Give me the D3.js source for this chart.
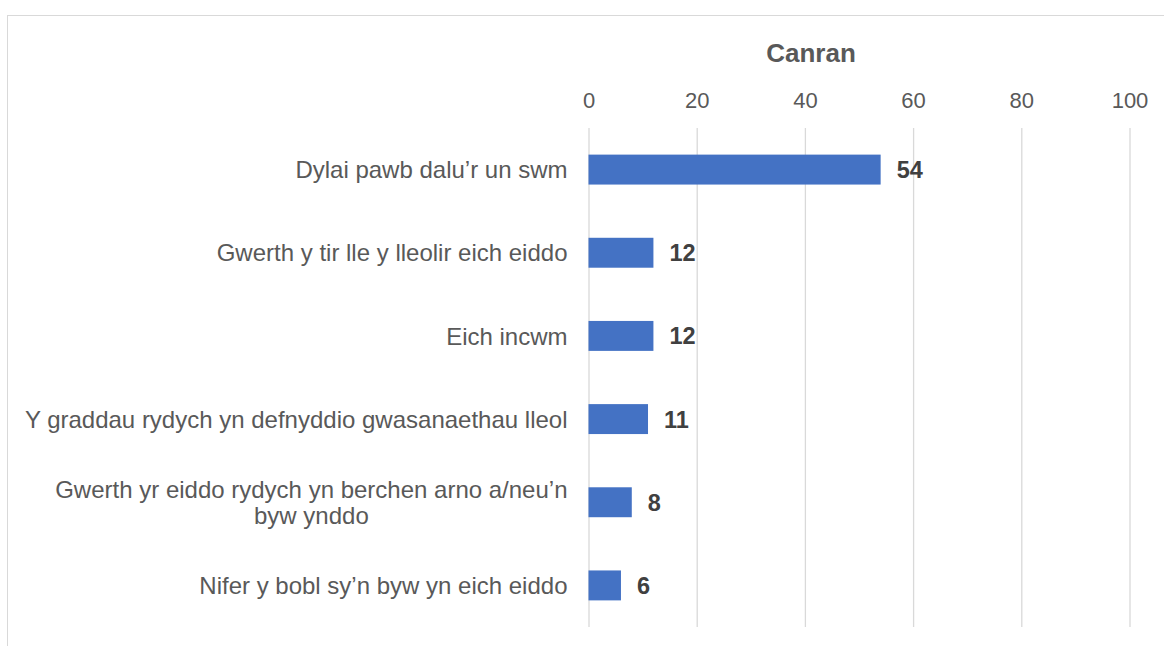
<!DOCTYPE html>
<html>
<head>
<meta charset="utf-8">
<script src="https://cdn.jsdelivr.net/npm/d3@7"></script>
<style>
  html, body { margin: 0; padding: 0; background: #fff; }
  svg { display: block; font-family: "Liberation Sans", Arial, sans-serif; }
</style>
</head>
<body>
<div id="chart"></div>
<script>
/* ── Data ─────────────────────────────────────────────────────────── */
const categories = [
  'Dylai pawb dalu’r un swm',
  'Gwerth y tir lle y lleolir eich eiddo',
  'Eich incwm',
  'Y graddau rydych yn defnyddio gwasanaethau lleol',
  'Gwerth yr eiddo rydych yn berchen arno a/neu’n byw ynddo',
  'Nifer y bobl sy’n byw yn eich eiddo'
];
const values = [54, 12, 12, 11, 8, 6];
const xTicks = [0, 20, 40, 60, 80, 100];
const axisTitle = 'Canran';

/* ── Layout ───────────────────────────────────────────────────────── */
const W = 1164, H = 646;
const margin = { top: 128, right: 34, bottom: 19, left: 588.5 };
const w = W - margin.left - margin.right;
const h = H - margin.top - margin.bottom;

const svg = d3.select('#chart').append('svg')
  .attr('width', W).attr('height', H);

// chart border (only left/top edges visible in the frame)
svg.append('rect')
  .attr('x', 7.5).attr('y', 15.5)
  .attr('width', W + 10).attr('height', H + 10)
  .attr('fill', 'none')
  .attr('stroke', '#d9d9d9')
  .attr('stroke-width', 1);

const g = svg.append('g')
  .attr('transform', `translate(${margin.left},${margin.top})`);

/* ── Scales ───────────────────────────────────────────────────────── */
const x = d3.scaleLinear().domain([0, 100]).range([0, 541]);
const y = d3.scaleBand()
  .domain(categories)
  .range([0, h])
  .paddingInner(0.64)
  .paddingOuter(0.32);

/* ── Grid ─────────────────────────────────────────────────────────── */
g.append('g')
  .call(d3.axisTop(x).tickValues(xTicks).tickSize(-h).tickFormat(''))
  .call(sel => sel.select('.domain').remove())
  .call(sel => sel.selectAll('line')
    .attr('stroke', '#d9d9d9')
    .attr('stroke-width', 1.3));

/* ── Top axis labels ──────────────────────────────────────────────── */
const ax = g.append('g')
  .call(d3.axisTop(x).tickValues(xTicks).tickSize(0).tickPadding(20));
ax.select('.domain').remove();
ax.selectAll('text')
  .attr('fill', '#595959')
  .attr('font-size', '22px')
  .attr('font-family', '"Liberation Sans", Arial, sans-serif');

svg.append('text')
  .attr('x', 811).attr('y', 62)
  .attr('text-anchor', 'middle')
  .attr('font-size', '26px')
  .attr('font-weight', 'bold')
  .attr('fill', '#595959')
  .text(axisTitle);

/* ── Bars ─────────────────────────────────────────────────────────── */
g.selectAll('.bar')
  .data(values)
  .join('rect')
  .attr('class', 'bar')
  .attr('x', x(0))
  .attr('y', (d, i) => y(categories[i]))
  .attr('width', d => x(d) - x(0))
  .attr('height', y.bandwidth())
  .attr('fill', '#4472c4');

g.selectAll('.val')
  .data(values)
  .join('text')
  .attr('class', 'val')
  .attr('x', d => x(d) + 16)
  .attr('y', (d, i) => y(categories[i]) + y.bandwidth() / 2)
  .attr('dy', '0.36em')
  .attr('font-size', '23.5px')
  .attr('font-weight', 'bold')
  .attr('fill', '#404040')
  .text(d => d);

/* ── Category labels (wrapped, block right-aligned, lines centred) ── */
const labelRight = -21;
const maxLabelW = 552;
const lineH = 26.7;

categories.forEach((cat, i) => {
  const cy = y(cat) + y.bandwidth() / 2;
  const t = g.append('text')
    .attr('font-size', '24px')
    .attr('fill', '#595959')
    .attr('text-anchor', 'middle');

  // greedy word wrap
  const words = cat.split(' ');
  const lines = [];
  let cur = [];
  const probe = t.append('tspan');
  words.forEach(wd => {
    cur.push(wd);
    probe.text(cur.join(' '));
    if (probe.node().getComputedTextLength() > maxLabelW && cur.length > 1) {
      cur.pop();
      lines.push(cur.join(' '));
      cur = [wd];
    }
  });
  lines.push(cur.join(' '));
  probe.remove();

  let blockW = 0;
  lines.forEach(l => {
    const s = t.append('tspan').text(l);
    blockW = Math.max(blockW, s.node().getComputedTextLength());
    s.remove();
  });

  const cx = labelRight - blockW / 2;
  const y0 = cy - (lines.length - 1) * lineH / 2;
  lines.forEach((l, k) => {
    t.append('tspan')
      .attr('x', cx)
      .attr('y', y0 + k * lineH)
      .attr('dy', '0.36em')
      .text(l);
  });
});
</script>
</body>
</html>
